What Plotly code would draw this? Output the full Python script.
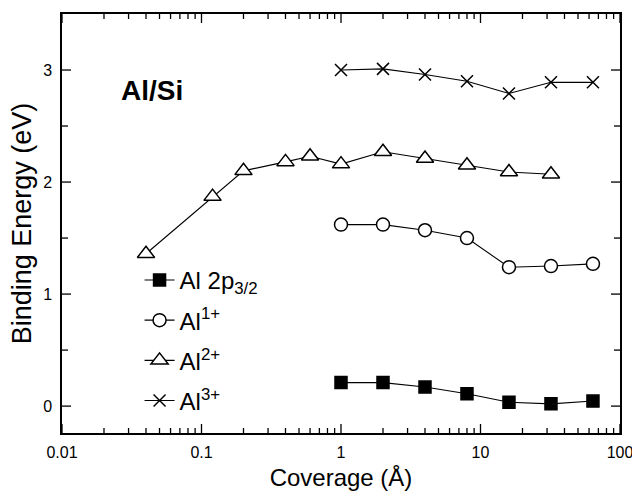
import plotly.graph_objects as go

# ---- data ----
cov_low = [1, 2, 4, 8, 16, 32, 64]
al2p = [0.21, 0.21, 0.17, 0.11, 0.035, 0.02, 0.045]
al1 = [1.62, 1.62, 1.57, 1.50, 1.24, 1.25, 1.27]
cov_al2 = [0.04, 0.12, 0.2, 0.4, 0.6, 1, 2, 4, 8, 16, 32]
al2 = [1.36, 1.87, 2.10, 2.18, 2.23, 2.16, 2.27, 2.21, 2.15, 2.09, 2.07]
al3 = [3.00, 3.01, 2.96, 2.90, 2.79, 2.89, 2.89]

names = ["Al 2p<sub>3/2</sub>", "Al<sup>1+</sup>", "Al<sup>2+</sup>", "Al<sup>3+</sup>"]
x_tickvals = [0.01, 0.1, 1, 10, 100]
x_ticktext = ["0.01", "0.1", "1", "10", "100"]
x_minor = [m * d for d in (0.01, 0.1, 1, 10) for m in range(2, 10)]
y_tickvals = [0, 1, 2, 3]
y_minor = [0.5, 1.5, 2.5]

FONT = "Liberation Sans, Arial, Helvetica, sans-serif"
W, H = 632, 491
ML, MR, MT, MB = 62, 12, 14, 58
PW, PH = W - ML - MR, H - MT - MB

fig = go.Figure()
series = [
    (cov_low, al2p, "square", 12, "black"),
    (cov_low, al1, "circle", 13, "white"),
    (cov_al2, al2, "triangle-up", 15, "white"),
    (cov_low, al3, "x-thin", 12, "black"),
]
for i, ((xs, ys, sym, size, fill), name) in enumerate(zip(series, names)):
    fig.add_trace(go.Scatter(
        x=xs, y=ys, name=name, mode="lines+markers",
        legendgroup=f"g{i}",
        line=dict(color="black", width=1.1),
        marker=dict(symbol=sym, size=size, color=fill,
                    line=dict(color="black", width=1.5)),
    ))

fig.add_annotation(
    x=-1.593, y=2.82, xref="x", yref="y", text="<b>Al/Si</b>",
    showarrow=False, xanchor="left", yanchor="middle",
    font=dict(family=FONT, size=28, color="black"),
)

# tick marks on all four sides, placed through the axes' scales
tick_line = dict(color="black", width=1.3)
for vals, ln in ((x_tickvals, 9), (x_minor, 5)):
    f = ln / PH
    for v in vals:
        fig.add_shape(type="line", xref="x", yref="paper", x0=v, x1=v, y0=0, y1=f, line=tick_line)
        fig.add_shape(type="line", xref="x", yref="paper", x0=v, x1=v, y0=1, y1=1 - f, line=tick_line)
for vals, ln in ((y_tickvals, 9), (y_minor, 6)):
    f = ln / PW
    for v in vals:
        fig.add_shape(type="line", xref="paper", yref="y", x0=0, x1=f, y0=v, y1=v, line=tick_line)
        fig.add_shape(type="line", xref="paper", yref="y", x0=1, x1=1 - f, y0=v, y1=v, line=tick_line)

tickfont = dict(family=FONT, size=16, color="black")

fig.update_layout(
    template="none",
    width=W, height=H,
    margin=dict(l=ML, r=MR, t=MT, b=MB, autoexpand=False),
    paper_bgcolor="white", plot_bgcolor="white",
    showlegend=True,
    xaxis=dict(
        type="log", range=[-2, 2],
        tickmode="array", tickvals=x_tickvals, ticktext=x_ticktext,
        ticks="", showline=True, linecolor="#000000", linewidth=1.5, mirror=True,
        showgrid=False, zeroline=False, automargin=False,
        tickfont=tickfont, ticklabeloverflow="allow", ticklabelstandoff=4,
        title=dict(text="Coverage (Å)", font=dict(family=FONT, size=24, color="black"),
                   standoff=9),
    ),
    yaxis=dict(
        range=[-0.24, 3.5], tickmode="array", tickvals=y_tickvals,
        ticks="", showline=True, linecolor="#000000", linewidth=1.5, mirror=True,
        showgrid=False, zeroline=False, automargin=False,
        tickfont=tickfont, ticklabelstandoff=5, ticklabeloverflow="allow",
        title=dict(text="Binding Energy (eV)", font=dict(family=FONT, size=27, color="black"),
                   standoff=4),
    ),
    legend=dict(
        x=0.139, y=0.418, xanchor="left", yanchor="top",
        bgcolor="rgba(0,0,0,0)", traceorder="grouped", tracegroupgap=6,
        font=dict(family=FONT, size=24, color="black"),
    ),
)

fig.write_html("out.html", config={"displayModeBar": False},
               post_script="document.body.style.margin='0px';")
